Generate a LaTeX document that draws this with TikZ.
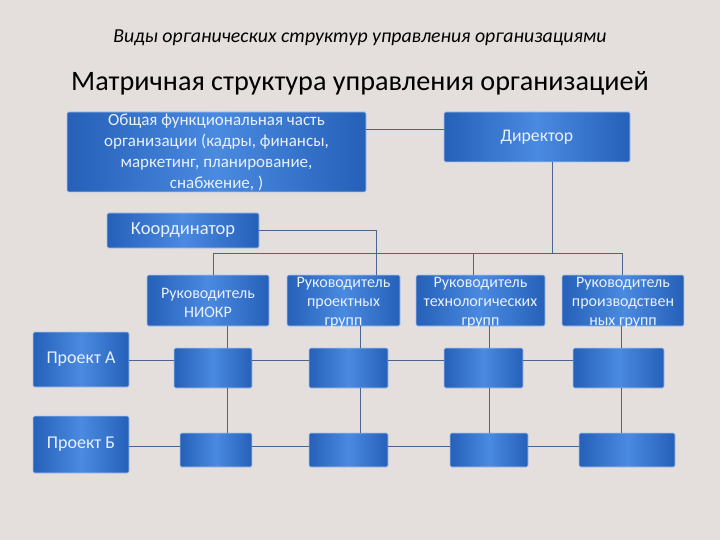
\documentclass[tikz,border=0pt]{standalone}
\usepackage{fontspec}
\setmainfont{Carlito}
\usetikzlibrary{calc}
\definecolor{bgc}{HTML}{E4DFDC}
\definecolor{boxedge}{HTML}{2660B8}
\definecolor{boxmid}{HTML}{4A8AE0}
\definecolor{boxline}{HTML}{A9C4EC}
\definecolor{conn}{HTML}{4A6590}
\definecolor{btext}{HTML}{E8F1FF}
\tikzset{
  bx/.style={rectangle, rounded corners=1.5pt, left color=boxedge, right color=boxedge,
    middle color=boxmid, draw=boxline, line width=0.6pt, inner sep=0pt},
  tx/.style={inner sep=0pt, text=btext, align=center, font=\fontsize{16}{19}\selectfont},
  cn/.style={draw=conn, line width=0.7pt},
}
\begin{document}
\begin{tikzpicture}[x=1pt,y=-1pt]
\fill[bgc] (0,0) rectangle (720,540);
\useasboundingbox (0,0) rectangle (720,540);

\node[font=\itshape\fontsize{19.8}{22}\selectfont, text=black] (sub) at (360,38)
  {Виды органических структур управления организациями};
\node[font=\fontsize{28.2}{30}\selectfont, text=black] (title) at (360,83)
  {Матричная структура управления организацией};

% top boxes
\node[bx, minimum width=299, minimum height=80] (gen) at (216.5,152) {};
\node[tx, font=\fontsize{17}{21}\selectfont] (gent) at (gen) {Общая функциональная часть\\организации (кадры, финансы,\\маркетинг, планирование,\\снабжение, )};
\node[bx, minimum width=186, minimum height=50] (dir) at (537,137) {};
\node[tx, font=\fontsize{17.7}{20}\selectfont] (dirt) at (dir) {Директор};
\node[bx, minimum width=152, minimum height=35] (coord) at (183,230.5) {};
\node[tx, font=\fontsize{18.5}{20}\selectfont] (coordt) at (coord) {Координатор};

% managers
\node[bx, minimum width=122, minimum height=51] (m1) at (208,300.5) {};
\node[bx, minimum width=113, minimum height=51] (m2) at (343.5,300.5) {};
\node[bx, minimum width=129, minimum height=51] (m3) at (480.5,300.5) {};
\node[bx, minimum width=122, minimum height=51] (m4) at (623,300.5) {};
\node[tx] (m1t) at ($(m1)+(0,2)$) {Руководитель\\НИОКР};
\node[tx] (m2t) at ($(m2)+(0,2)$) {Руководитель\\проектных\\групп};
\node[tx] (m3t) at ($(m3)+(0,2)$) {Руководитель\\технологических\\групп};
\node[tx] (m4t) at ($(m4)+(0,2)$) {Руководитель\\производствен\\ных групп};

% projects
\node[bx, minimum width=96, minimum height=55] (pA) at (81,359.5) {};
\node[tx, font=\fontsize{18}{20}\selectfont] (pAt) at (pA) {Проект А};
\node[bx, minimum width=96, minimum height=57] (pB) at (81,444.5) {};
\node[tx, font=\fontsize{18}{20}\selectfont] (pBt) at (pB) {Проект Б};

% cells
\node[bx, minimum width=78, minimum height=40] (c11) at (213,368) {};
\node[bx, minimum width=79, minimum height=40] (c12) at (348.5,368) {};
\node[bx, minimum width=79, minimum height=40] (c13) at (483.5,368) {};
\node[bx, minimum width=91, minimum height=40] (c14) at (618.5,368) {};
\node[bx, minimum width=72, minimum height=34] (c21) at (216,450) {};
\node[bx, minimum width=79, minimum height=34] (c22) at (348.5,450) {};
\node[bx, minimum width=78, minimum height=34] (c23) at (489,450) {};
\node[bx, minimum width=96, minimum height=34] (c24) at (627,450) {};

% connectors: top
\coordinate (busL) at (213,253);
\coordinate (busR) at (622,253);
\coordinate (busD) at (552,253);
\coordinate (busT) at (473,253);
\coordinate (genR) at (366,129);
\draw[cn] (genR) -- (genR -| dir.west);
\draw[cn] (busL) -- (busR);
\draw[cn] (dir.south -| busD) -- (busD);
\draw[cn] (busL) -- (busL |- m1.north);
\draw[cn] (busT) -- (busT |- m3.north);
\draw[cn] (busR) -- (busR |- m4.north);
\coordinate (crd) at (376,230.5);
\draw[cn] (coord.east) -- (crd) -- (crd |- m2.north);

% verticals
\coordinate (v1) at (227,0);
\coordinate (v2) at (360,0);
\coordinate (v3) at (489,0);
\coordinate (v4) at (621,0);
\draw[cn] (m1.south -| v1) -- (c11.north -| v1);
\draw[cn] (c11.south -| v1) -- (c21.north -| v1);
\draw[cn] (m2.south -| v2) -- (c12.north -| v2);
\draw[cn] (c12.south -| v2) -- (c22.north -| v2);
\draw[cn] (m3.south -| v3) -- (c13.north -| v3);
\draw[cn] (c13.south -| v3) -- (c23.north -| v3);
\draw[cn] (m4.south -| v4) -- (c14.north -| v4);
\draw[cn] (c14.south -| v4) -- (c24.north -| v4);

% horizontals row 1
\coordinate (h1) at (0,360);
\draw[cn] (pA.east |- h1) -- (c11.west |- h1);
\draw[cn] (c11.east |- h1) -- (c12.west |- h1);
\draw[cn] (c12.east |- h1) -- (c13.west |- h1);
\draw[cn] (c13.east |- h1) -- (c14.west |- h1);
% horizontals row 2
\coordinate (h2) at (0,446);
\draw[cn] (pB.east |- h2) -- (c21.west |- h2);
\draw[cn] (c21.east |- h2) -- (c22.west |- h2);
\draw[cn] (c22.east |- h2) -- (c23.west |- h2);
\draw[cn] (c23.east |- h2) -- (c24.west |- h2);
\end{tikzpicture}
\end{document}
